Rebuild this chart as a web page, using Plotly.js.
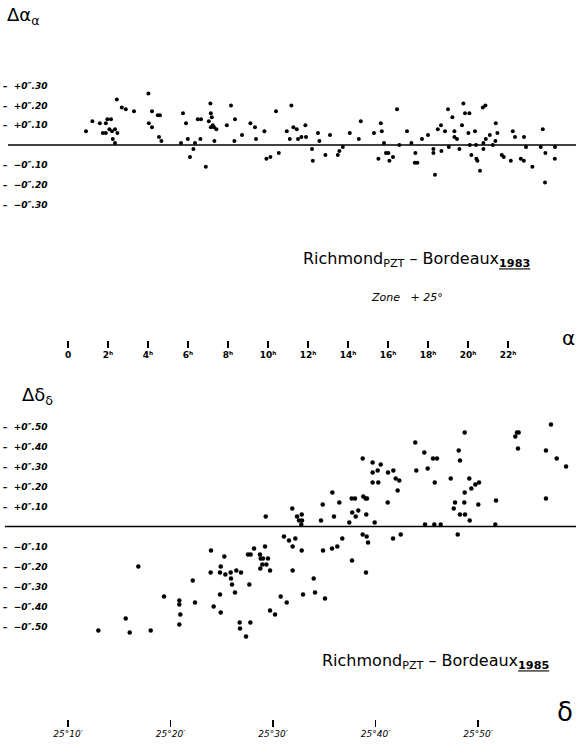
<!DOCTYPE html>
<html>
<head>
<meta charset="utf-8">
<script src="https://cdn.plot.ly/plotly-3.0.1.min.js"></script>
<style>html,body{margin:0;padding:0;background:#fff;}#chart{width:576px;height:747px;}</style>
</head>
<body>
<div id="chart"></div>
<script>
// ---- Top panel: Δα versus α (hours) ----
const alphaHours = [0.90,1.22,1.59,1.74,1.89,1.89,1.97,2.15,2.07,2.20,
2.35,2.47,2.24,2.35,2.44,2.69,2.89,3.30,4.02,4.20,
4.04,4.20,4.49,4.60,4.55,4.67,5.65,5.75,5.90,5.99,
6.35,6.27,6.10,6.49,6.65,6.62,6.89,7.12,7.14,7.04,
7.19,7.14,7.24,7.30,7.42,7.32,7.94,8.15,8.35,8.32,
8.70,9.12,9.35,9.40,9.82,9.92,10.12,10.40,10.54,10.94,
11.09,11.17,11.27,11.44,11.50,11.67,11.87,11.90,12.20,12.24,
12.50,12.57,12.87,13.10,13.49,13.57,13.74,14.09,14.54,14.64,
15.30,15.52,15.64,15.69,15.80,15.90,16.02,16.07,16.25,16.45,
16.57,16.95,17.17,17.37,17.34,17.47,17.70,18.00,18.27,18.27,
18.35,18.49,18.65,18.67,18.85,19.00,19.04,19.22,19.32,19.32,
19.45,19.57,19.70,19.77,19.85,20.07,20.02,20.09,20.17,20.35,
20.40,20.42,20.47,20.60,20.74,20.87,20.77,20.77,20.89,21.09,
21.24,21.39,21.37,21.47,21.69,21.79,22.14,22.24,22.35,22.64,
22.79,22.80,22.90,23.22,23.64,23.74,23.87,23.85,24.35,24.34];
const deltaAlpha = [0.07,0.12,0.11,0.06,0.06,0.11,0.13,0.13,0.08,0.07,
0.08,0.06,0.03,0.01,0.23,0.19,0.18,0.17,0.26,0.17,
0.11,0.09,0.15,0.15,0.04,0.02,0.01,0.16,0.11,0.03,
0.01,-0.02,-0.06,0.13,0.13,0.03,-0.11,0.21,0.16,0.12,
0.14,0.09,0.10,0.09,0.08,0.02,0.10,0.20,0.13,0.02,
0.05,0.11,0.09,0.03,0.07,-0.07,-0.06,0.17,-0.04,0.07,
0.03,0.20,0.09,0.08,0.03,0.04,0.10,0.04,-0.02,-0.08,
0.06,0.02,-0.05,0.05,-0.05,-0.03,-0.01,0.06,0.03,0.12,
0.06,-0.07,0.11,0.07,0.01,-0.04,-0.04,-0.08,-0.06,0.18,
0.00,0.07,0.01,-0.04,-0.09,-0.09,0.03,0.05,-0.02,-0.04,
-0.15,0.08,0.10,-0.03,0.07,0.18,-0.01,0.14,0.07,0.04,
0.03,-0.02,0.10,0.21,0.16,0.16,0.06,0.00,-0.05,0.07,
0.00,-0.07,-0.08,-0.13,0.19,0.20,0.01,-0.02,0.03,0.05,
0.00,0.11,0.02,0.06,-0.05,-0.06,-0.08,0.07,0.04,-0.07,
-0.08,0.04,-0.01,-0.11,-0.01,0.08,-0.04,-0.19,-0.01,-0.07];
const alphaTickVals = [0,2,4,6,8,10,12,14,16,18,20,22];
const alphaTickText = ['0','2ʰ','4ʰ','6ʰ','8ʰ','10ʰ','12ʰ','14ʰ','16ʰ','18ʰ','20ʰ','22ʰ'];
const dAlphaTickVals = [0.3,0.2,0.1,-0.1,-0.2,-0.3];
const dAlphaTickText = ['–  +0″.30','–  +0″.20','–  +0″.10','–  −0″.10','–  −0″.20','–  −0″.30'];

// ---- Bottom panel: Δδ versus δ (arcminutes above 25°) ----
const decMinutes = [12.96,15.63,16.02,16.86,18.07,19.37,20.86,20.86,20.96,20.86,
22.17,22.39,23.95,23.92,24.90,24.83,25.25,25.35,25.87,25.90,
26.00,26.29,26.42,26.88,24.21,24.83,24.90,26.75,26.78,27.37,
27.79,27.69,27.56,27.82,28.15,28.73,28.80,29.02,29.22,29.51,
28.96,29.35,28.76,29.71,29.29,30.75,31.34,29.71,30.20,31.07,
31.56,32.18,31.92,32.80,31.92,32.93,33.97,34.10,35.07,34.88,
31.88,32.34,32.80,32.54,32.83,32.76,34.68,34.85,35.79,35.95,
36.47,36.76,36.27,35.76,37.44,37.73,37.68,38.00,38.07,38.32,
38.75,38.81,39.04,39.17,39.10,38.75,39.14,39.27,39.72,39.72,
40.21,40.51,39.72,40.27,39.92,41.22,41.74,41.97,42.32,42.16,
41.19,41.71,42.46,43.88,43.98,44.76,45.09,45.61,46.00,45.78,
44.83,45.74,46.36,47.34,47.63,47.76,48.02,48.12,48.24,48.70,
48.24,48.70,48.66,48.73,49.15,49.35,49.74,50.10,50.03,49.19,
51.76,51.69,53.64,53.80,53.97,53.90,56.63,57.12,57.68,56.63,
58.59,37.71,39.07];
const deltaDelta = [-0.52,-0.46,-0.53,-0.20,-0.52,-0.35,-0.37,-0.39,-0.44,-0.49,
-0.27,-0.38,-0.12,-0.23,-0.20,-0.23,-0.15,-0.24,-0.23,-0.26,
-0.29,-0.33,-0.22,-0.23,-0.40,-0.34,-0.43,-0.48,-0.51,-0.55,
-0.48,-0.29,-0.14,-0.14,-0.11,-0.14,-0.16,-0.16,-0.10,-0.16,
-0.19,-0.19,-0.21,-0.22,0.05,-0.35,-0.38,-0.42,-0.44,-0.05,
-0.07,-0.06,-0.10,-0.12,-0.22,-0.34,-0.26,-0.33,-0.36,-0.12,
0.09,0.05,0.06,0.03,0.03,0.01,0.03,0.11,0.17,0.05,
0.12,-0.06,-0.10,-0.11,0.02,0.07,0.14,0.14,0.05,0.08,
0.34,0.15,0.14,0.14,0.06,-0.04,-0.05,-0.08,0.32,0.27,
0.28,0.31,0.22,0.22,0.02,0.27,0.28,0.24,0.23,0.18,
0.12,-0.06,-0.04,0.42,0.28,0.37,0.29,0.34,0.34,0.22,
0.01,0.01,0.01,0.24,0.09,0.12,-0.04,0.38,0.33,0.47,
0.06,0.17,0.12,0.06,0.24,0.19,0.21,0.22,0.11,0.03,
0.13,0.01,0.45,0.47,0.47,0.39,0.38,0.51,0.34,0.14,
0.30,-0.17,-0.23];
const decTickVals = [10,20,30,40,50];
const decTickText = ['25°10′','25°20′','25°30′','25°40′','25°50′'];
const dDeltaTickVals = [0.5,0.4,0.3,0.2,0.1,-0.1,-0.2,-0.3,-0.4,-0.5];
const dDeltaTickText = ['–  +0″.50','–  +0″.40','–  +0″.30','–  +0″.20','–  +0″.10','–  −0″.10','–  −0″.20','–  −0″.30','–  −0″.40','–  −0″.50'];

const W = 576, H = 747;
const px = v => v / W;
const py = v => 1 - v / H;

const tickFont = {family: 'DejaVu Sans', size: 9, color: '#000', style: 'italic', weight: 'bold'};

const traces = [
  {x: alphaHours, y: deltaAlpha, xaxis: 'x', yaxis: 'y', type: 'scatter', mode: 'markers',
   marker: {color: '#000', size: 4}, hoverinfo: 'skip'},
  {x: decMinutes, y: deltaDelta, xaxis: 'x2', yaxis: 'y2', type: 'scatter', mode: 'markers',
   marker: {color: '#000', size: 4.5}, hoverinfo: 'skip'}
];

const layout = {
  width: W, height: H,
  margin: {l: 0, r: 0, t: 0, b: 0},
  paper_bgcolor: '#fff', plot_bgcolor: 'rgba(0,0,0,0)',
  showlegend: false,
  xaxis: {
    domain: [0, 1], range: [-3.4, 25.4], anchor: 'free', position: py(348), side: 'bottom',
    tickvals: alphaTickVals, ticktext: alphaTickText, ticks: 'inside', ticklen: 7, tickwidth: 1.5, tickcolor: '#000',
    showgrid: false, zeroline: false, showline: false, tickfont: {family: 'DejaVu Sans', size: 9, color: '#000', weight: 'bold'}
  },
  yaxis: {
    domain: [py(215), py(70)], range: [(145 - 215) / 198, (145 - 70) / 198], anchor: 'x',
    tickvals: dAlphaTickVals, ticktext: dAlphaTickText, ticks: '', ticklabelposition: 'inside',
    showgrid: false, zeroline: false, showline: false, tickfont: tickFont
  },
  xaxis2: {
    domain: [0, 1], range: [10 - 68 / 10.25, 10 + (576 - 68) / 10.25], anchor: 'free', position: py(727), side: 'bottom',
    tickvals: decTickVals, ticktext: decTickText, ticks: 'inside', ticklen: 7, tickwidth: 1.2, tickcolor: '#000',
    showgrid: false, zeroline: false, showline: false, tickfont: {family: 'DejaVu Sans', size: 9, color: '#000', style: 'italic'}
  },
  yaxis2: {
    domain: [py(645), py(415)], range: [(526.5 - 645) / 200, (526.5 - 415) / 200], anchor: 'x2',
    tickvals: dDeltaTickVals, ticktext: dDeltaTickText, ticks: '', ticklabelposition: 'inside',
    showgrid: false, zeroline: false, showline: false, tickfont: tickFont
  },
  shapes: [
    {type: 'line', xref: 'paper', yref: 'y', x0: px(8), x1: 1, y0: 0, y1: 0, line: {color: '#000', width: 1.6}},
    {type: 'line', xref: 'paper', yref: 'y2', x0: px(5), x1: 1, y0: 0, y1: 0, line: {color: '#000', width: 1.6}}
  ],
  annotations: [
    {xref: 'paper', yref: 'paper', x: px(5), y: py(16), xanchor: 'left', yanchor: 'middle', showarrow: false,
     text: 'Δα<sub>α</sub>', font: {family: 'DejaVu Sans', size: 18, color: '#000'}},
    {xref: 'paper', yref: 'paper', x: px(416), y: py(259), xanchor: 'center', yanchor: 'middle', showarrow: false,
     text: 'Richmond<sub>PZT</sub> – Bordeaux<sub><b><u>1983</u></b></sub>', font: {family: 'DejaVu Sans', size: 16, color: '#000'}},
    {xref: 'paper', yref: 'paper', x: px(407), y: py(297), xanchor: 'center', yanchor: 'middle', showarrow: false,
     text: 'Zone   + 25°', font: {family: 'DejaVu Sans', size: 11, color: '#000', style: 'italic'}},
    {xref: 'paper', yref: 'paper', x: px(568), y: py(338), xanchor: 'center', yanchor: 'middle', showarrow: false,
     text: 'α', font: {family: 'DejaVu Sans', size: 20, color: '#000'}},
    {xref: 'paper', yref: 'paper', x: px(20), y: py(396), xanchor: 'left', yanchor: 'middle', showarrow: false,
     text: 'Δδ<sub>δ</sub>', font: {family: 'DejaVu Sans', size: 18, color: '#000'}},
    {xref: 'paper', yref: 'paper', x: px(435), y: py(661), xanchor: 'center', yanchor: 'middle', showarrow: false,
     text: 'Richmond<sub>PZT</sub> – Bordeaux<sub><b><u>1985</u></b></sub>', font: {family: 'DejaVu Sans', size: 16, color: '#000'}},
    {xref: 'paper', yref: 'paper', x: px(565), y: py(712), xanchor: 'center', yanchor: 'middle', showarrow: false,
     text: 'δ', font: {family: 'DejaVu Sans', size: 26, color: '#000'}}
  ]
};

Plotly.newPlot('chart', traces, layout, {staticPlot: true, displayModeBar: false});
</script>
</body>
</html>
